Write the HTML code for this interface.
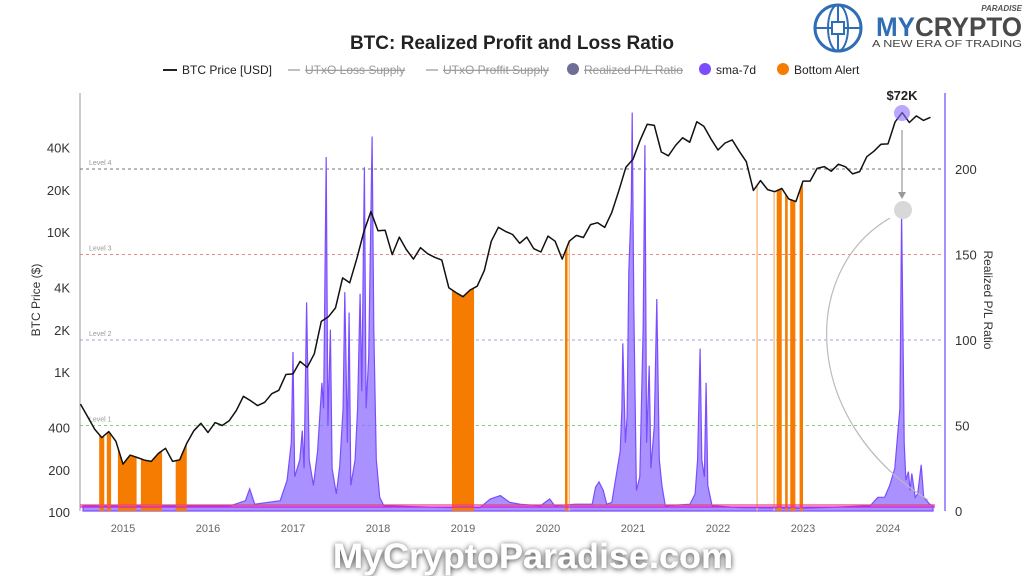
<!DOCTYPE html>
<html><head><meta charset="utf-8">
<style>
body{margin:0;background:#fff;width:1024px;height:576px;overflow:hidden;font-family:"Liberation Sans",sans-serif}
svg{position:absolute;left:0;top:0}
</style></head>
<body>
<svg id="chart" width="1024" height="576" viewBox="0 0 1024 576">
<defs>
  <filter id="glow" x="-10%" y="-40%" width="120%" height="180%">
    <feGaussianBlur in="SourceAlpha" stdDeviation="3"/>
    <feOffset dx="0" dy="1" result="b"/>
    <feComponentTransfer><feFuncA type="linear" slope="0.8"/></feComponentTransfer>
    <feMerge><feMergeNode/><feMergeNode in="SourceGraphic"/></feMerge>
  </filter>
</defs>
<g>
  <circle cx="838" cy="28" r="23" fill="none" stroke="#2f6db5" stroke-width="3"/>
  <ellipse cx="838" cy="28" rx="10" ry="23" fill="none" stroke="#2f6db5" stroke-width="2"/>
  <line x1="815" y1="28" x2="861" y2="28" stroke="#2f6db5" stroke-width="2"/>
  <line x1="838" y1="5" x2="838" y2="51" stroke="#2f6db5" stroke-width="2"/>
  <rect x="832" y="22" width="12" height="12" fill="#fff" stroke="#2f6db5" stroke-width="2"/>
  <text x="876" y="36" font-size="27" font-weight="bold" fill="#2f6db5" textLength="146" lengthAdjust="spacingAndGlyphs">MY<tspan fill="#4a4a4a">CRYPTO</tspan></text>
  <text x="1022" y="11" font-size="8" font-style="italic" font-weight="bold" fill="#555" text-anchor="end">PARADISE</text>
  <text x="872" y="47" font-size="10" fill="#444" textLength="150" lengthAdjust="spacingAndGlyphs">A NEW ERA OF TRADING</text>
</g>
<text x="512" y="49" text-anchor="middle" font-size="19" font-weight="bold" fill="#222">BTC: Realized Profit and Loss Ratio</text>
<g font-size="12">
  <g><line x1="163" y1="70" x2="177" y2="70" stroke="#222" stroke-width="2"/><text x="182" y="74" fill="#222">BTC Price [USD]</text></g>
  <g><line x1="288" y1="70" x2="300" y2="70" stroke="#aaa" stroke-width="1.5"/><text x="305" y="74" fill="#999" text-decoration="line-through">UTxO Loss Supply</text></g>
  <g><line x1="426" y1="70" x2="438" y2="70" stroke="#aaa" stroke-width="1.5"/><text x="443" y="74" fill="#999" text-decoration="line-through">UTxO Proffit Supply</text></g>
  <g><circle cx="573" cy="69" r="6" fill="#6e6e96"/><text x="584" y="74" fill="#999" text-decoration="line-through">Realized P/L Ratio</text></g>
  <g><circle cx="705" cy="69" r="6" fill="#7b4dff"/><text x="716" y="74" fill="#222">sma-7d</text></g>
  <g><circle cx="783" cy="69" r="6" fill="#f57c00"/><text x="794" y="74" fill="#222">Bottom Alert</text></g>
</g>
<g id="plot"></g>
</svg>
<script>
const priceStart = 2014.5;
const priceVals = [590,480,390,340,375,320,
220,255,245,235,230,262,285,230,236,310,380,430,
370,435,415,450,530,670,625,575,608,700,740,960,
970,1190,1080,1350,2300,2480,2870,4700,4340,6450,10000,14000,
10200,10300,6900,9200,7500,6400,7730,7000,6600,6300,4000,3700,
3450,3850,4100,5300,8600,10800,10100,9600,8300,9200,7600,7200,
9350,8600,6400,8600,9450,9140,11300,11650,10780,13800,19700,29000,
33100,45200,58800,57700,37300,35000,41500,47100,43800,61300,57000,46300,
38500,43200,45500,37700,31800,19800,23300,20100,19400,20500,17200,16500,
23100,23100,28500,29300,27200,30500,29200,26000,27000,34500,37700,42300,
42600,61200,71300,60600,67500,62700,66000];
const ratioDates = [2014.53,2016.26,2016.44,2016.49,2016.55,2016.85,2016.93,2016.98,2017.00,2017.02,2017.08,2017.11,2017.13,2017.16,2017.19,2017.24,2017.29,2017.34,2017.36,2017.39,2017.41,2017.44,2017.46,2017.51,2017.55,2017.59,2017.61,2017.64,2017.66,2017.68,2017.73,2017.76,2017.79,2017.81,2017.84,2017.86,2017.89,2017.93,2017.95,2017.98,2018.02,2018.07,2018.85,2019.2,2019.32,2019.44,2019.55,2019.67,2019.91,2020.02,2020.08,2020.32,2020.52,2020.56,2020.6,2020.65,2020.69,2020.75,2020.8,2020.85,2020.87,2020.88,2020.91,2020.93,2020.95,2020.98,2020.99,2021.01,2021.04,2021.08,2021.12,2021.14,2021.16,2021.19,2021.21,2021.25,2021.28,2021.31,2021.34,2021.38,2021.67,2021.73,2021.76,2021.79,2021.81,2021.84,2021.86,2021.88,2021.93,2022.26,2022.96,2023.79,2023.88,2023.96,2024.02,2024.08,2024.14,2024.16,2024.19,2024.21,2024.24,2024.26,2024.28,2024.32,2024.35,2024.39,2024.42,2024.49,2024.53];
const ratioVals = [3,3,6,13,4,6,18,40,93,20,30,47,25,122,30,15,35,75,60,207,50,106,25,10,26,60,128,40,116,15,30,60,127,70,201,60,90,219,106,30,8,3,2,2,7,9,5,4,3,7,3,4,4,14,17,12,4,5,20,35,60,98,40,55,140,180,233,120,12,20,108,214,40,85,25,50,124,30,15,3,4,10,30,95,30,20,75,15,3,2,1.5,3,8,8,15,25,60,175,40,18,23,12,22,8,10,27,8,4,3];
const alertStarts = [2014.72,2014.81,2014.94,2015.21,2015.62,2018.87,2020.20,2022.69,2022.79,2022.85,2022.96];
const alertEnds   = [2014.78,2014.86,2015.16,2015.46,2015.75,2019.13,2020.23,2022.75,2022.82,2022.91,2023.00];
const thinAlerts = [2020.25,2022.46,2022.66];
const priceTicks = [100,200,400,1000,2000,4000,10000,20000,40000];
const priceTickLabels = ["100","200","400","1K","2K","4K","10K","20K","40K"];
const ratioTicks = [0,50,100,150,200];
const yearTicks = [2015,2016,2017,2018,2019,2020,2021,2022,2023,2024];
const levelVals = [50,100,150,200];
const levelNames = ["Level 1","Level 2","Level 3","Level 4"];
const levelColors = ["#5ccc4c","#8f86e8","#e86a6a","#555"];

const X0=80,X1=945,YB=511;
const xs = y => 208 + (y-2016)*85;
const yP = p => 512 - Math.log10(p/100)*140;
const yR = v => YB - v*1.71;
const NS="http://www.w3.org/2000/svg";
const plot=document.getElementById('plot');
function mk(tag,attrs,parent){const e=document.createElementNS(NS,tag);for(const k in attrs)e.setAttribute(k,attrs[k]);(parent||plot).appendChild(e);return e;}
function priceAt(d){const f=(d-priceStart)*12;const i=Math.max(0,Math.min(priceVals.length-2,Math.floor(f)));const t=Math.min(1,Math.max(0,f-i));return Math.exp(Math.log(priceVals[i])*(1-t)+Math.log(priceVals[i+1])*t);}

let e=mk('line',{x1:X0,y1:93,x2:X0,y2:YB,stroke:'#999','stroke-width':1});


e=mk('line',{x1:X1,y1:93,x2:X1,y2:YB,stroke:'#8a6cff','stroke-width':1.5});



priceTicks.forEach((p,i)=>{
  const t=mk('text',{x:70,y:yP(p)+5,'text-anchor':'end','font-size':13,fill:'#333'});
  t.textContent=priceTickLabels[i];
  
  
});
ratioTicks.forEach(v=>{
  const t=mk('text',{x:955,y:yR(v)+5,'font-size':13,fill:'#333'});
  t.textContent=v;
  
  
});
yearTicks.forEach(yr=>{
  const t=mk('text',{x:xs(yr),y:532,'text-anchor':'middle','font-size':11,fill:'#666'});
  t.textContent=yr;
  
  
});
e=mk('text',{x:40,y:300,'text-anchor':'middle','font-size':12,fill:'#333',transform:'rotate(-90 40 300)'});
e.textContent='BTC Price ($)';


e=mk('text',{x:984,y:300,'text-anchor':'middle','font-size':12,fill:'#333',transform:'rotate(90 984 300)'});
e.textContent='Realized P/L Ratio';



levelVals.forEach((v,i)=>{
  const l=mk('line',{x1:X0,y1:yR(v),x2:X1-3,y2:yR(v),stroke:levelColors[i],'stroke-width':1,'stroke-dasharray':'3,3',opacity:0.8});
  
  
  const t=mk('text',{x:89,y:yR(v)-4,'font-size':7,fill:'#999'});
  t.textContent=levelNames[i];
  
  
});

let d='M'+xs(ratioDates[0])+','+YB;
ratioDates.forEach((dt,i)=>{d+=' L'+xs(dt).toFixed(1)+','+yR(ratioVals[i]).toFixed(1);});
d+=' L'+xs(ratioDates[ratioDates.length-1])+','+YB+' Z';
e=mk('path',{d:d,fill:'#8c6cff','fill-opacity':0.75,stroke:'#7b4dff','stroke-width':1.2});



alertStarts.forEach((s,i)=>{
  const en=alertEnds[i];
  let pd='M'+xs(s)+','+YB;
  for(let t=s;t<=en+1e-6;t+=0.01){pd+=' L'+xs(t).toFixed(1)+','+yP(priceAt(t)).toFixed(1);}
  pd+=' L'+xs(en)+','+yP(priceAt(en)).toFixed(1)+' L'+xs(en)+','+YB+' Z';
  const r=mk('path',{d:pd,fill:'#f57c00'});
  
  
});
thinAlerts.forEach(s=>{
  const l=mk('line',{x1:xs(s),y1:yP(priceAt(s)),x2:xs(s),y2:YB,stroke:'#fbb26a','stroke-width':1.2});
  
  
});

e=mk('line',{x1:X0,y1:505,x2:935,y2:505,stroke:'#f0407a','stroke-width':1.2});


e=mk('line',{x1:X0,y1:507,x2:935,y2:507,stroke:'#d020e0','stroke-width':1.2});



let pp='';
priceVals.forEach((p,i)=>{pp+=(i?' L':'M')+xs(priceStart+i/12).toFixed(1)+','+yP(p).toFixed(1);});
e=mk('path',{d:pp,fill:'none',stroke:'#111','stroke-width':1.5,'stroke-linejoin':'round'});



e=mk('circle',{cx:902,cy:113,r:8,fill:'#8c6cff','fill-opacity':0.6});


e=mk('text',{x:902,y:100,'text-anchor':'middle','font-size':13,'font-weight':'bold',fill:'#222'});
e.textContent='$72K';


e=mk('line',{x1:902,y1:130,x2:902,y2:194,stroke:'#999','stroke-width':1.2});


e=mk('path',{d:'M898,192 L902,199 L906,192 Z',fill:'#999'});


e=mk('circle',{cx:903,cy:210,r:9,fill:'#d8d8d8'});


e=mk('path',{d:'M890,218 C800,270 800,420 928,500',fill:'none',stroke:'#bbb','stroke-width':1.2});



e=mk('text',{x:533,y:568,'text-anchor':'middle','font-size':35,'font-weight':'bold',fill:'#fff',textLength:400,lengthAdjust:'spacingAndGlyphs',filter:'url(#glow)'});
e.textContent='MyCryptoParadise.com';


</script>
</body></html>
